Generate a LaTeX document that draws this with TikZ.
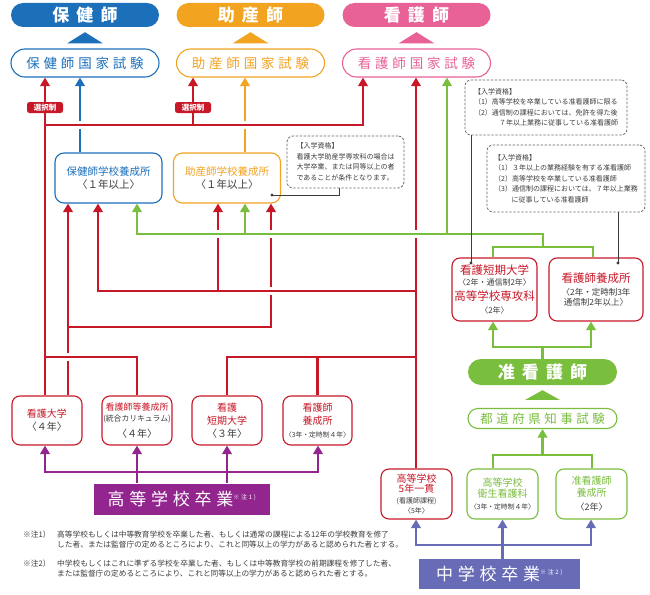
\documentclass[tikz,border=0pt]{standalone}
\usepackage{fontspec}
\setmainfont{Noto Sans CJK JP}
\newfontfamily\jptitle{Noto Sans CJK JP}[LetterSpace=42]
\newfontfamily\jpwide{Noto Sans CJK JP}[LetterSpace=28]
\usetikzlibrary{arrows.meta,calc}
\definecolor{hokenblue}{RGB}{28,112,186}
\definecolor{josanorange}{RGB}{242,163,32}
\definecolor{kangopink}{RGB}{232,98,152}
\definecolor{linered}{RGB}{200,24,40}
\definecolor{junleaf}{RGB}{122,190,62}
\definecolor{hsviolet}{RGB}{146,38,142}
\definecolor{jhslate}{RGB}{104,108,182}
\definecolor{inkgray}{RGB}{60,60,60}
\newcommand{\jpsize}[2]{\fontsize{#1}{#2}\selectfont}

\begin{document}
\begin{tikzpicture}[x=1pt, y=-1pt,
    title/.style={rounded corners=12pt, minimum width=148pt, minimum height=24pt, inner sep=0pt,
                  text=white, font=\jptitle\bfseries\jpsize{17}{17}},
    exam/.style={draw, line width=1.1pt, fill=white, rounded corners=14pt, minimum width=148pt,
                 minimum height=28pt, inner sep=0pt, font=\jpwide\jpsize{13.5}{13.5}},
    school/.style={draw, line width=1.1pt, fill=white, rounded corners=9pt, minimum width=107pt,
                   minimum height=50pt, inner sep=0.5pt, align=center, font=\jpsize{10.5}{13}},
    course/.style={draw=linered, line width=1.1pt, fill=white, rounded corners=8pt, minimum width=70pt,
                   minimum height=49pt, inner sep=0.5pt, align=center, text=linered, font=\jpsize{10}{13}},
    grad/.style={minimum height=31pt, inner sep=0pt, text=white, font=\jpwide\jpsize{17}{17}},
    memo/.style={draw=inkgray!80, line width=0.8pt, dash pattern=on 2.4pt off 1.6pt, rounded corners=6pt,
                 inner sep=3pt, align=left, text=inkgray, font=\jpsize{7}{10.5}},
    tag/.style={fill=linered, rounded corners=2.5pt, minimum width=36pt, minimum height=11pt, inner sep=0pt,
                text=white, font=\bfseries\jpsize{7.5}{7.5}},
    flow/.style={line width=2.8pt},
    up/.style={-{Triangle[width=9.5pt,length=8.5pt]}},
    upup/.style={{Triangle[width=9.5pt,length=8.5pt]}-{Triangle[width=9.5pt,length=8.5pt]}},
    bridge/.style={preaction={draw=white, line width=8.5pt}},
    lead/.style={draw=inkgray, line width=0.6pt}
]
\useasboundingbox (0,0) rectangle (650,594);

% licences and national exams
\node[title, fill=hokenblue] (t1) at (85,15) {保健師};
\node[title, fill=josanorange] (t2) at (250.5,15) {助産師};
\node[title, fill=kangopink] (t3) at (416.5,15) {看護師};
\node[exam, draw=hokenblue, text=hokenblue] (e1) at (85,63) {保健師国家試験};
\node[exam, draw=josanorange, text=josanorange] (e2) at (250.5,63) {助産師国家試験};
\node[exam, draw=kangopink, text=kangopink] (e3) at (416.5,63) {看護師国家試験};
\foreach \e/\t/\c in {e1/t1/hokenblue, e2/t2/josanorange, e3/t3/kangopink}
    \fill[\c] ($(\e.north)+(-18,-5)$) -- ($(\e.north)+(18,-5)$) -- ($(\t.south)+(0,5)$) -- cycle;

% schools
\node[school, draw=hokenblue, text=hokenblue] (s1) at (108.5,178) {保健師学校養成所\\\textcolor{inkgray}{〈１年以上〉}};
\node[school, draw=josanorange, text=josanorange] (s2) at (227,178) {助産師学校養成所\\\textcolor{inkgray}{〈１年以上〉}};

\node[course] (b1) at (47,420.5) {看護大学\\\textcolor{inkgray}{〈４年〉}};
\node[course] (b2) at (137,420.5) {\jpsize{9}{9}看護師等養成所\\[-2pt]\textcolor{inkgray}{\jpsize{7.8}{7.8}(統合カリキュラム)}\\[3pt]\textcolor{inkgray}{〈４年〉}};
\node[course] (b3) at (227,420.5) {看護\\短期大学\\\textcolor{inkgray}{〈３年〉}};
\node[course, minimum width=69pt] (b4) at (317.5,420.5) {看護師\\養成所\\\textcolor{inkgray}{\jpsize{6.8}{6.8}〈3年・定時制４年〉}};

\node[course, minimum width=85pt, minimum height=63pt, font=\jpsize{11.5}{13}] (r1) at (494.5,289.5)
    {看護短期大学\\[-2pt]\textcolor{inkgray}{\jpsize{8}{8}〈2年・通信制2年〉}\\[2pt]高等学校専攻科\\\textcolor{inkgray}{\jpsize{8}{8}〈2年〉}};
\node[course, minimum width=94pt, minimum height=63pt, font=\jpsize{11.5}{13}] (r2) at (596,289.5)
    {看護師養成所\\\textcolor{inkgray}{\jpsize{8.5}{8.5}〈2年・定時制3年}\\[-3pt]\textcolor{inkgray}{\jpsize{8.5}{8.5}通信制2年以上〉}};

\node[title, fill=junleaf, minimum width=149pt, minimum height=26pt, rounded corners=13pt] (jn) at (542.5,372) {准看護師};
\node[exam, draw=junleaf, text=junleaf, minimum width=149pt, minimum height=20pt, rounded corners=10pt,
      font=\jpwide\jpsize{12.5}{12.5}] (je) at (542.5,418.5) {都道府県知事試験};
\fill[junleaf] ($(je.north)+(-17.5,-8)$) -- ($(je.north)+(17.5,-8)$) -- ($(jn.south)+(0,5)$) -- cycle;

\node[course, minimum width=71pt, minimum height=50pt, font=\jpsize{10}{10.5}] (c1) at (416.5,494)
    {高等学校\\5年一貫\\\textcolor{inkgray}{\jpsize{7}{7}(看護師課程)}\\\textcolor{inkgray}{\jpsize{7}{7}〈5年〉}};
\node[course, draw=junleaf, text=junleaf, minimum width=71pt, minimum height=50pt, font=\jpsize{10}{11.5}] (c2) at (502.5,494)
    {高等学校\\衛生看護科\\[0.5pt]\textcolor{inkgray}{\jpsize{6.8}{6.8}〈3年・定時制４年〉}};
\node[course, draw=junleaf, text=junleaf, minimum width=71pt, minimum height=50pt, font=\jpsize{10}{11.5}] (c3) at (591.5,494)
    {准看護師\\養成所\\[3pt]\textcolor{inkgray}{\jpsize{9}{9}〈2年〉}};

\node[grad, fill=hsviolet, minimum width=176pt] (hs) at (182,499) {高等学校卒業\textsuperscript{\jpsize{6}{6}※注1)}};
\node[grad, fill=jhslate, minimum width=161pt, minimum height=30pt] (cs) at (499.5,574) {中学校卒業\textsuperscript{\jpsize{6}{6}※注2)}};

% entry notes
\node[memo, minimum width=162pt, minimum height=55pt] (n1) at (546,107.5)
    {【入学資格】\\（1）高等学校を卒業している准看護師に限る\\（2）通信制の課程においては、免許を得た後\\\hspace*{3.6em}７年以上業務に従事している准看護師};
\node[memo, minimum width=158pt, minimum height=67pt] (n2) at (566,178.5)
    {【入学資格】\\（1）３年以上の業務経験を有する准看護師\\（2）高等学校を卒業している准看護師\\（3）通信制の課程においては、７年以上業務\\\hspace*{2.5em}に従事している准看護師};
\node[memo, minimum width=117pt, minimum height=52pt] (n3) at (345.5,162)
    {【入学資格】\\看護大学助産学専攻科の場合は\\大学卒業、または同等以上の者\\であることが条件となります。};

% junctions
\coordinate (ra1) at (45,125);
\coordinate (ra2) at (193,125);
\coordinate (ra3) at (363,125);
\coordinate (bq) at (80,125);
\coordinate (rb1) at (98,291);
\coordinate (rb2) at (218,291);
\coordinate (rb3) at (416,291);
\coordinate (rc1) at (68,327);
\coordinate (rc2) at (271,327);
\coordinate (rd1) at (45,357);
\coordinate (rd2) at (416,357);
\coordinate (ga1) at (137,234);
\coordinate (ga2) at (245,234);
\coordinate (ga3) at (447,234);
\coordinate (ga4) at (543,234);
\coordinate (gb1) at (493,247);
\coordinate (gb2) at (593,247);
\coordinate (gc1) at (493,347);
\coordinate (gc2) at (591,347);
\coordinate (gd1) at (493,455);
\coordinate (gd2) at (592,455);
\coordinate (pa1) at (45,472);
\coordinate (pa2) at (318,472);
\coordinate (sa1) at (416,545);
\coordinate (sa2) at (591,545);

\draw[flow, hokenblue, up] (s1.north -| bq) -- (bq |- e1.south);
\draw[flow, josanorange, up] (s2.north -| ga2) -- (ga2 |- e2.south);

\draw[flow, linered, up] (b1.north -| ra1) -- (ra1 |- e1.south);
\draw[flow, linered, up] (ra1) -- (ra3) -- (ra3 |- e3.south);
\draw[flow, linered, up] (ra2) -- (ra2 |- e2.south);
\draw[flow, linered, up] (b1.north -| rc1) -- (rc1 |- s1.south);
\draw[flow, linered, up] (rc1) -- (rc2) -- (rc2 |- s2.south);
\draw[flow, linered, up] (c1.north -| rb3) -- (rb3 |- e3.south);
\draw[flow, linered, up] (rb3) -- (rb1) -- (rb1 |- s1.south);
\draw[flow, linered, up] (rb2) -- (rb2 |- s2.south);
\draw[flow, linered] (b2.north) |- (rd1);
\draw[flow, linered] (b3.north) |- (rd2);
\draw[flow, linered] (b4.north) -- (b4.north |- rd2);

\draw[flow, junleaf] (gb1 |- r1.north) -- (gb1) -- (gb2) -- (gb2 |- r2.north);
\draw[flow, junleaf, up] ($(gb1)!0.5!(gb2)$) -- (ga4) -- (ga1) -- (ga1 |- s1.south);
\draw[flow, junleaf, up] (ga2) -- (ga2 |- s2.south);
\draw[flow, junleaf, up] (ga3) -- (ga3 |- e3.south);
\draw[flow, junleaf] (jn.north) -- (jn.north |- gc1);
\draw[flow, junleaf, upup] (gc1 |- r1.south) -- (gc1) -- (gc2) -- (gc2 |- r2.south);
\draw[flow, junleaf] (gd1 |- c2.north) -- (gd1) -- (gd2) -- (gd2 |- c3.north);
\draw[flow, junleaf, up] (gd1 -| je.south) -- (je.south);

\draw[flow, hsviolet, upup] (pa1 |- b1.south) -- (pa1) -- (pa2) -- (pa2 |- b4.south);
\draw[flow, hsviolet, up] (hs.north -| b2.south) -- (b2.south);
\draw[flow, hsviolet, up] (hs.north -| b3.south) -- (b3.south);
\draw[flow, jhslate, upup] (sa1 |- c1.south) -- (sa1) -- (sa2) -- (sa2 |- c3.south);
\draw[flow, jhslate, up] (cs.north -| c2.south) -- (c2.south);

% crossings
\foreach \p in {bq, ga2 |- ra1, rc2 |- rb1, rc1 |- rd1}
    \draw[flow, linered, bridge] ($(\p)+(-8,0)$) -- ($(\p)+(8,0)$);
\foreach \p in {rb2 |- ga1, rc2 |- ga1, rb3 |- ga1}
    \draw[flow, junleaf, bridge] ($(\p)+(-8,0)$) -- ($(\p)+(8,0)$);

\node[tag] (l1) at (45,107.5) {選択制};
\node[tag] (l2) at (193,107.5) {選択制};

% leads from the notes
\coordinate (d1) at (471,263);
\coordinate (d2) at (618,263);
\coordinate (d3) at (272,195);
\coordinate (k3) at (339,195);
\draw[lead] (n1.south -| d1) -- (d1);
\draw[lead] (n2.south -| d2) -- (d2);
\draw[lead] (n3.south -| k3) |- (d3);
\foreach \d in {d1, d2, d3}
    \fill[inkgray] (\d) circle (1.7pt);

% footnotes
\node[anchor=north west, inner sep=0pt, text=inkgray, font=\jpsize{7.7}{10}] (f1) at (23,530.5) {※注1）};
\node[anchor=north west, inner sep=0pt, text=inkgray, font=\jpsize{7.7}{10}, align=left] (f1t) at (57,530.5)
    {高等学校もしくは中等教育学校を卒業した者、もしくは通常の課程による12年の学校教育を修了\\した者、または監督庁の定めるところにより、これと同等以上の学力があると認められた者とする。};
\node[anchor=north west, inner sep=0pt, text=inkgray, font=\jpsize{7.7}{10}] (f2) at (23,559.5) {※注2）};
\node[anchor=north west, inner sep=0pt, text=inkgray, font=\jpsize{7.7}{10}, align=left] (f2t) at (57,559.5)
    {中学校もしくはこれに準ずる学校を卒業した者、もしくは中等教育学校の前期課程を修了した者、\\または監督庁の定めるところにより、これと同等以上の学力があると認められた者とする。};
\end{tikzpicture}
\end{document}
